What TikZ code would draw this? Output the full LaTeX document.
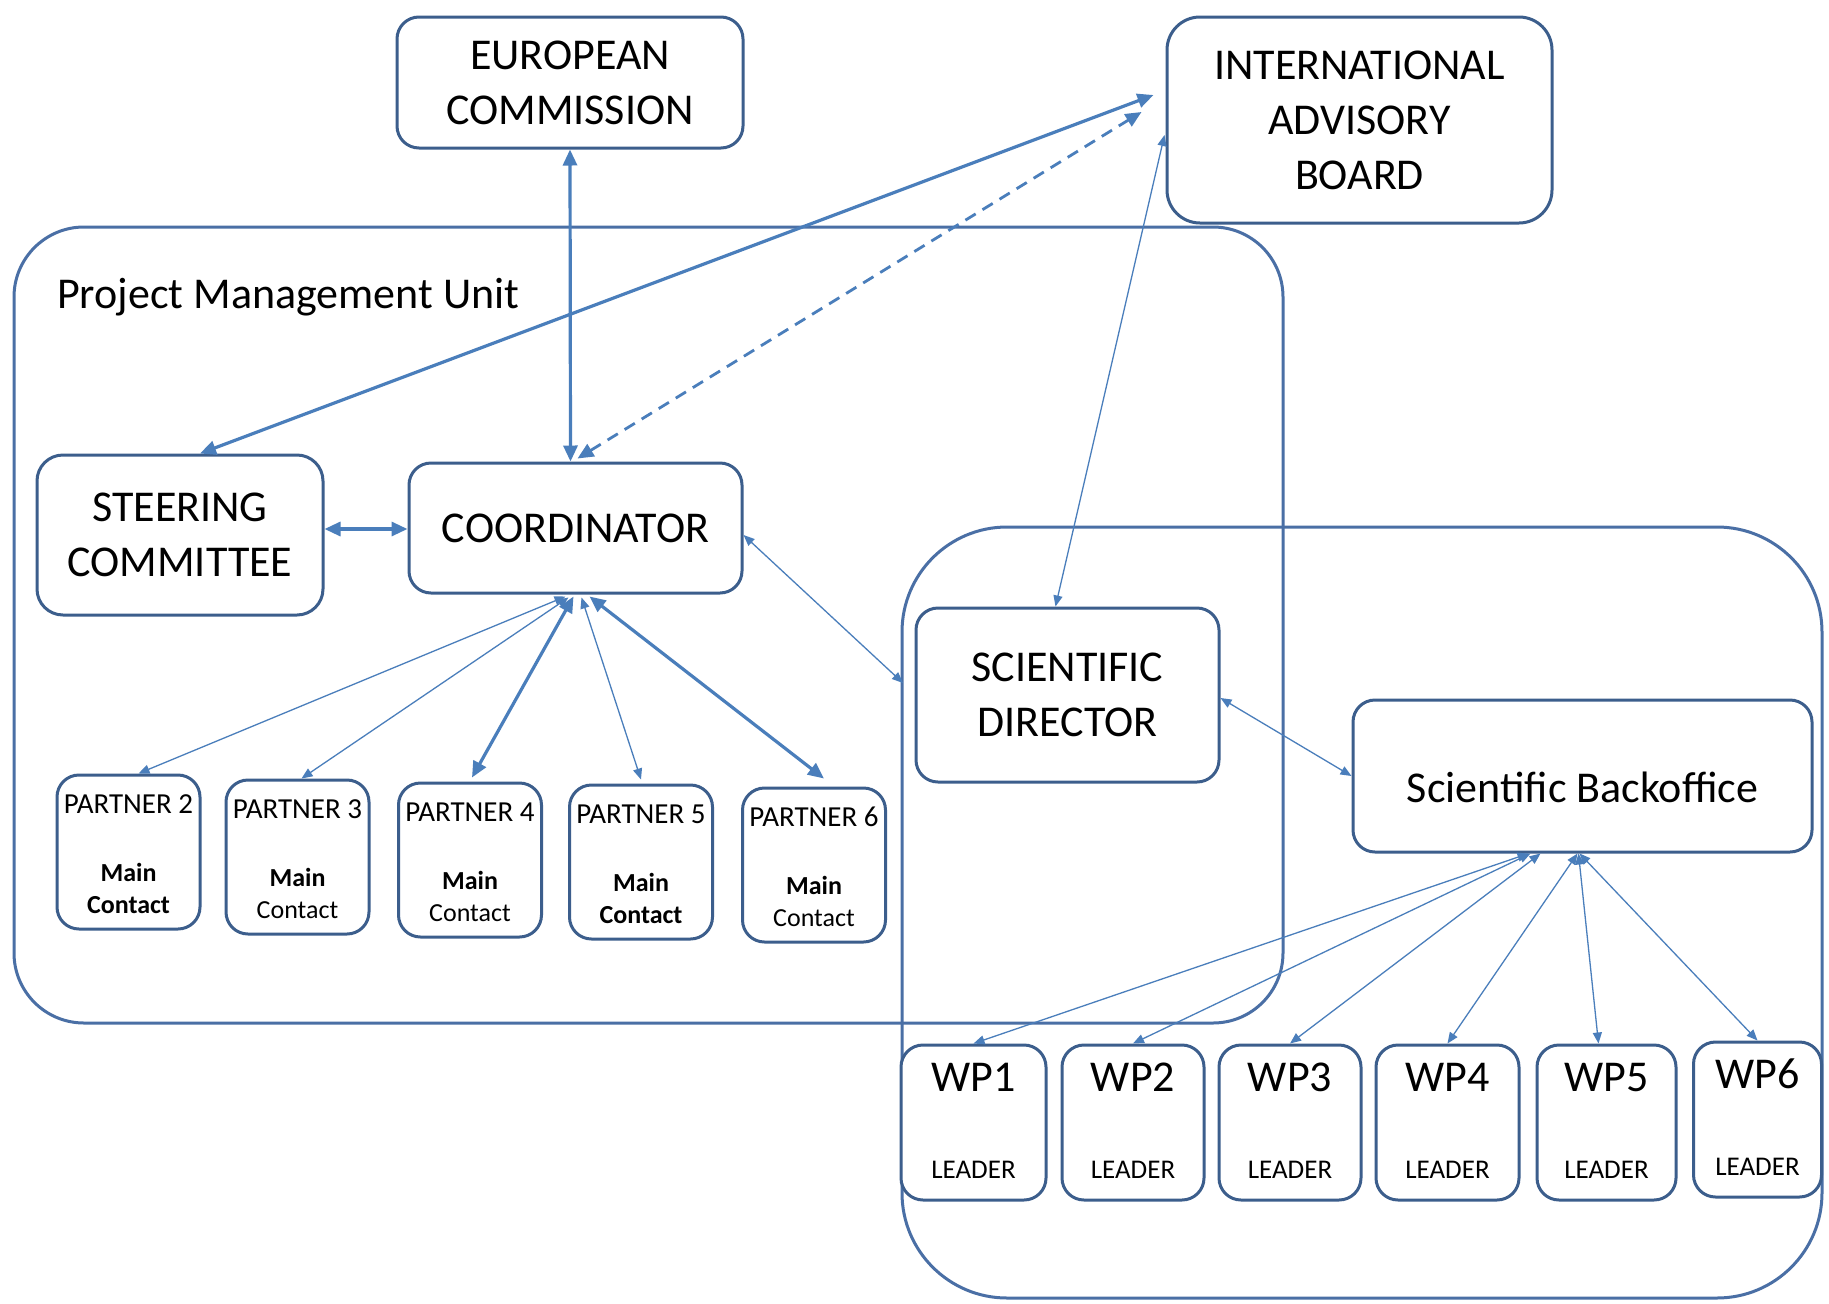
\documentclass[tikz,border=0pt]{standalone}
\usepackage{fontspec}
\setmainfont{Carlito}
\usetikzlibrary{arrows.meta}
\definecolor{boxc}{HTML}{3C5E8C}
\definecolor{arrc}{HTML}{4A7EBB}
\definecolor{regc}{HTML}{4A6FA5}
\tikzset{
  rbox/.style={draw=boxc, line width=3pt, fill=white, rounded corners=22pt, inner sep=0pt, align=center, font=\fontsize{44}{55}\selectfont},
  pbox/.style={draw=boxc, line width=3pt, fill=white, rounded corners=22pt, inner sep=0pt, minimum width=143, minimum height=154},
  wpbox/.style={draw=boxc, line width=3pt, fill=white, rounded corners=22pt, inner sep=0pt, minimum height=155},
  region/.style={draw=regc, line width=3pt, inner sep=0pt},
  ptitle/.style={anchor=base, inner sep=0pt, font=\fontsize{29}{35}\selectfont},
  pmain/.style={anchor=base, inner sep=0pt, font=\fontsize{26}{32}\selectfont},
  wptitle/.style={anchor=base, inner sep=0pt, font=\fontsize{44}{55}\selectfont},
  wplead/.style={anchor=base, inner sep=0pt, font=\fontsize{27}{32}\selectfont},
  bigtext/.style={anchor=base, inner sep=0pt, font=\fontsize{44}{55}\selectfont},
  bigarrow/.style={draw=arrc, line width=3.2pt, {Triangle[length=16pt,width=14pt]}-{Triangle[length=16pt,width=14pt]}},
  smallarrow/.style={draw=arrc, line width=1.3pt, {Triangle[length=11pt,width=9pt]}-{Triangle[length=11pt,width=9pt]}},
  dasharrow/.style={bigarrow, line width=2.8pt, dash pattern=on 12pt off 8pt},
}
\begin{document}
\begin{tikzpicture}[x=1pt,y=-1pt]
\fill[white] (0,0) rectangle (1829,1304);
\useasboundingbox (0,0) rectangle (1829,1304);

% regions
\node[region, rounded corners=70pt, minimum width=1269, minimum height=796] (pmu) at (648.5,625) {};
\node[region, rounded corners=105pt, minimum width=920, minimum height=771] (sci) at (1362,912.5) {};
\node[bigtext, anchor=base west] (pmulabel) at (57,308) {Project Management Unit};
\coordinate (sciedge) at (903,683);

% main boxes
\node[rbox, minimum width=346, minimum height=131] (ec) at (570,82.5) {EUROPEAN\\COMMISSION};
\node[rbox, rounded corners=33pt, minimum width=385, minimum height=206] (iab) at (1359.5,120) {INTERNATIONAL\\ADVISORY\\BOARD};
\node[rbox, rounded corners=26pt, minimum width=286, minimum height=160] (steer) at (180,535) {STEERING\\COMMITTEE};
\node[rbox, minimum width=333, minimum height=130] (coord) at (575.5,528) {COORDINATOR};
\node[rbox, minimum width=303, minimum height=174] (scidir) at (1067.5,695) {SCIENTIFIC\\DIRECTOR};
\node[rbox, minimum width=459, minimum height=152] (sciback) at (1582.5,776) {};
\node[bigtext] (sciback-t) at (1582.5,802) {Scientific Backoffice};

% partners
\foreach \n/\cx/\tp/\cf in {2/128.5/775/\bfseries,3/297.5/780/\mdseries,4/470/783/\mdseries,5/641/785/\bfseries,6/814/788/\mdseries}{
  \node[pbox] (p\n) at (\cx,\tp+77) {};
  \node[ptitle] (pt\n) at ([yshift=-40pt]p\n.north) {PARTNER \n};
  \node[pmain] (pm\n) at ([yshift=-108pt]p\n.north) {\bfseries Main};
  \node[pmain] (pc\n) at ([yshift=-140pt]p\n.north) {\cf Contact};
}

% work packages
\foreach \n/\cx/\w/\tp in {1/973.5/145/1045,2/1133/142/1045,3/1290/142/1045,4/1447.5/143/1045,5/1606.5/139/1045,6/1757.5/128/1042}{
  \node[wpbox, minimum width=\w] (wp\n) at (\cx,\tp+77.5) {};
  \node[wptitle] (wpt\n) at ([yshift=-48pt]wp\n.north) {WP\n};
  \node[wplead] (wpl\n) at ([yshift=-135pt]wp\n.north) {LEADER};
}

% connectors
\draw[bigarrow] (ec.south) -- ([xshift=-5pt]coord.north);
\draw[bigarrow] ([xshift=20pt]steer.north) -- ([xshift=-12pt,yshift=25pt]iab.west);
\draw[dasharrow] ([xshift=2pt,yshift=3pt]coord.north) -- ([xshift=-24pt,yshift=8pt]iab.west);
\draw[smallarrow] ([xshift=-12pt]scidir.north) -- ([xshift=-1pt,yshift=-15pt]iab.west);
\draw[bigarrow] ([yshift=6pt]steer.east) -- ([yshift=-1pt]coord.west);
\draw[smallarrow] ([yshift=-7pt]coord.east) -- (sciedge);
\draw[smallarrow] ([xshift=-10pt,yshift=-2pt]coord.south) -- ([xshift=10pt]p2.north);
\draw[smallarrow] ([xshift=-7pt,yshift=-3pt]coord.south) -- ([xshift=4pt]p3.north);
\draw[bigarrow] ([xshift=-2pt,yshift=-2pt]coord.south) -- ([xshift=2pt,yshift=4pt]p4.north);
\draw[smallarrow] ([xshift=6pt,yshift=-3pt]coord.south) -- ([yshift=4pt]p5.north);
\draw[bigarrow] ([xshift=14pt,yshift=-2pt]coord.south) -- ([xshift=10pt,yshift=8pt]p6.north);
\draw[smallarrow] ([yshift=-3pt]scidir.east) -- (sciback.west);
\draw[smallarrow] ([xshift=-54pt]sciback.south) -- (wp1.north);
\draw[smallarrow] ([xshift=-52pt]sciback.south) -- (wp2.north);
\draw[smallarrow] ([xshift=-42pt]sciback.south) -- (wp3.north);
\draw[smallarrow] ([xshift=-5pt]sciback.south) -- (wp4.north);
\draw[smallarrow] ([xshift=-4pt]sciback.south) -- ([xshift=-8pt]wp5.north);
\draw[smallarrow] ([xshift=-3pt]sciback.south) -- (wp6.north);
\end{tikzpicture}
\end{document}
